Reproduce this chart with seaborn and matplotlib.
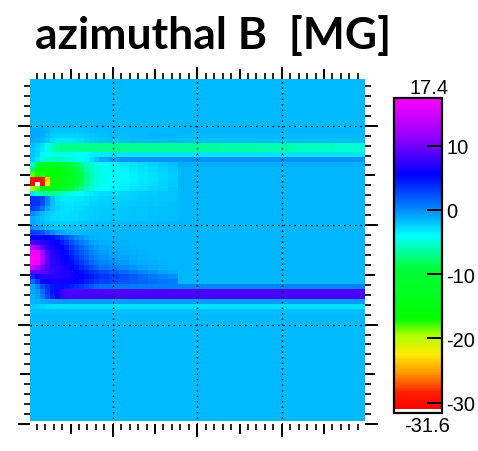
import numpy as np
import matplotlib
matplotlib.use("Agg")
import matplotlib.pyplot as plt
import seaborn as sns
from matplotlib.colors import LinearSegmentedColormap
from matplotlib.ticker import FixedLocator

# ---------------- data ----------------
TITLE = "azimuthal B  [MG]"
V_MIN, V_MAX = -31.6, 17.4
CBAR_TICKS = [10, 0, -10, -20, -30]
CBAR_TOP_LABEL = "17.4"
CBAR_BOTTOM_LABEL = "-31.6"

N_ROWS, N_COLS = 70, 68
X_LO, X_HI = 0.02, 3.985      # physical x range of the map
Y_LO, Y_HI = 0.0, 3.47        # physical y range of the frame
X_MAJOR = [1, 2, 3]
Y_MAJOR = [0, 1, 2, 3]

# far-field value of each row (top -> bottom)
far_profile = [
    -1.6, -1.6, -1.6, -1.6, -1.6, -1.6, -1.6, -1.6, -1.6, -1.5, -1.5, -1.6, -1.8,  # r0-12
    -6.0, -6.0,                                                                    # r13-14 upper band
    -3.0, -0.3, -1.2,                                                              # r15-17
    -1.5, -1.5, -1.5, -1.5, -1.5, -1.5, -1.5, -1.5, -1.5, -1.5, -1.5, -1.5,        # r18-29
    -1.5, -1.5, -1.5, -1.5, -1.5, -1.5, -1.5, -1.5, -1.5, -1.5, -1.5, -1.5,        # r30-41
    0.4, 8.4, 8.4, -0.6, -2.9,                                                     # r42-46 lower band
    -1.8,                                                                          # r47
    -1.6, -1.6, -1.6, -1.6, -1.6, -1.6, -1.6, -1.6, -1.6, -1.6, -1.6,              # r48-58
    -1.6, -1.6, -1.6, -1.6, -1.6, -1.6, -1.6, -1.6, -1.6, -1.6, -1.6,              # r59-69
]

# upper band (rows 13-14) for columns 30..67, in blocks
upper_band_far = [-6.6, -6.3, -6.0, -5.6, -5.2]
upper_band_counts = [8, 8, 8, 8, 6]

PATCH_ROW0 = 10
# left-edge structures, rows 10..46, columns 0..13
left_patch = [
    [-1.0, -1.0, -1.2, -1.5, -1.8, -2.0, -2.0, -2.0, -2.0, -2.0, -1.9, -1.8, -1.7, -1.6],   # r10
    [-0.9, -1.0, -1.3, -1.8, -2.2, -2.4, -2.5, -2.5, -2.5, -2.4, -2.3, -2.2, -2.0, -1.9],   # r11
    [-1.0, -1.2, -1.6, -2.2, -2.8, -3.1, -3.2, -3.2, -3.1, -3.0, -2.8, -2.6, -2.4, -2.2],   # r12
    [-1.8, -2.2, -3.0, -4.5, -5.5, -6.3, -6.8, -7.0, -7.0, -7.0, -7.0, -7.0, -7.0, -7.0],   # r13
    [-2.0, -2.5, -3.3, -4.8, -5.8, -6.5, -6.8, -7.0, -7.0, -7.0, -7.0, -7.0, -7.0, -7.0],   # r14
    [-2.0, -2.6, -3.8, -4.3, -4.5, -4.6, -4.6, -4.5, -4.4, -4.3, -4.1, -3.9, -3.6, -3.3],   # r15
    [-2.2, -3.2, -4.8, -5.5, -5.8, -5.8, -5.6, -5.3, -5.0, -4.7, -4.3, -3.8, -3.0, -2.0],   # r16
    [-3.5, -9.0, -12.0, -12.5, -12.5, -12.0, -11.0, -10.0, -9.0, -8.0, -6.8, -5.8, -5.0, -4.5],   # r17
    [-8.0, -14.5, -16.0, -16.0, -15.5, -15.0, -14.0, -12.5, -11.0, -9.5, -8.0, -6.7, -5.6, -4.9],  # r18
    [-18.5, -16.5, -17.5, -16.5, -16.5, -16.0, -15.0, -13.5, -12.0, -10.5, -8.7, -7.1, -5.9, -5.0],  # r19
    [-29.5, -30.5, -29.0, -23.5, -16.5, -16.0, -15.0, -13.5, -12.0, -10.5, -8.7, -7.1, -5.9, -5.0],  # r20
    [-30.0, -33.0, -29.5, -21.5, -16.3, -15.8, -14.7, -13.2, -11.5, -10.0, -8.4, -6.9, -5.7, -4.9],  # r21
    [-19.5, -18.5, -17.0, -16.0, -15.0, -14.0, -12.5, -11.0, -9.5, -8.3, -7.0, -5.9, -5.1, -4.5],  # r22
    [-3.0, -5.5, -6.5, -6.8, -6.6, -6.2, -5.7, -5.2, -4.7, -4.3, -3.9, -3.6, -3.3, -3.0],   # r23
    [3.5, 3.5, 2.5, 0.3, -1.8, -2.9, -3.3, -3.4, -3.4, -3.3, -3.2, -3.0, -2.8, -2.7],      # r24
    [3.8, 3.8, 2.5, 0.0, -1.8, -2.7, -3.0, -3.1, -3.1, -3.0, -2.9, -2.8, -2.6, -2.5],      # r25
    [3.0, 2.5, 0.8, -1.0, -2.0, -2.6, -2.8, -2.9, -2.9, -2.8, -2.7, -2.6, -2.4, -2.3],     # r26
    [0.0, -0.8, -1.6, -2.2, -2.6, -2.8, -2.9, -2.9, -2.8, -2.7, -2.6, -2.5, -2.4, -2.3],   # r27
    [-1.0, -1.5, -2.0, -2.4, -2.7, -2.8, -2.9, -2.8, -2.8, -2.7, -2.6, -2.5, -2.3, -2.2],  # r28
    [-0.8, -1.3, -1.8, -2.1, -2.3, -2.4, -2.4, -2.4, -2.3, -2.2, -2.1, -2.0, -1.9, -1.8],  # r29
    [-0.3, -0.6, -1.1, -1.5, -1.8, -2.0, -2.0, -2.0, -1.9, -1.9, -1.8, -1.7, -1.6, -1.6],  # r30
    [3.0, 2.8, 2.2, 1.2, 0.2, -0.6, -1.1, -1.4, -1.5, -1.6, -1.6, -1.6, -1.5, -1.5],       # r31
    [6.0, 6.0, 5.8, 5.5, 5.0, 4.2, 3.2, 2.2, 1.2, 0.3, -0.4, -0.9, -1.2, -1.4],           # r32
    [8.5, 8.0, 7.0, 6.5, 6.0, 5.5, 4.5, 3.5, 2.4, 1.4, 0.6, -0.1, -0.6, -1.0],            # r33
    [14.0, 11.5, 9.0, 7.0, 6.3, 6.0, 5.5, 4.5, 3.4, 2.4, 1.5, 0.7, 0.0, -0.5],            # r34
    [16.8, 16.3, 12.5, 8.5, 7.0, 6.3, 5.8, 5.0, 4.0, 3.0, 2.1, 1.3, 0.5, -0.1],           # r35
    [17.3, 17.1, 13.5, 9.0, 7.2, 6.5, 6.0, 5.4, 4.5, 3.5, 2.6, 1.7, 0.9, 0.3],            # r36
    [17.1, 16.7, 12.5, 9.0, 7.3, 6.6, 6.2, 5.8, 5.0, 4.1, 3.2, 2.3, 1.5, 0.8],            # r37
    [15.0, 12.5, 10.0, 8.5, 7.5, 7.0, 6.6, 6.2, 5.6, 4.8, 4.0, 3.2, 2.4, 1.7],            # r38
    [9.0, 9.0, 9.0, 8.5, 7.8, 7.2, 6.8, 6.5, 6.1, 5.6, 5.0, 4.4, 3.8, 3.2],               # r39
    [4.0, 6.0, 7.0, 7.2, 7.2, 7.0, 6.8, 6.6, 6.3, 5.9, 5.5, 5.0, 4.5, 4.0],               # r40
    [1.5, 3.2, 5.0, 5.8, 6.2, 6.3, 6.2, 6.0, 5.7, 5.3, 4.9, 4.4, 3.9, 3.4],               # r41
    [-0.8, 0.5, 2.5, 3.8, 4.5, 4.9, 5.0, 4.8, 4.4, 3.9, 3.3, 2.7, 2.1, 1.5],              # r42
    [-1.0, -0.5, 1.2, 3.2, 4.8, 6.3, 7.6, 8.3, 8.5, 8.5, 8.5, 8.5, 8.5, 8.5],              # r43
    [-1.2, -0.8, 0.6, 2.6, 4.2, 6.0, 7.4, 8.2, 8.4, 8.4, 8.4, 8.4, 8.4, 8.4],              # r44
    [-1.5, -1.3, -1.1, -0.8, -0.6, -0.5, -0.5, -0.5, -0.6, -0.6, -0.6, -0.6, -0.6, -0.6],  # r45
    [-2.2, -2.4, -2.6, -2.8, -2.8, -2.9, -2.9, -2.9, -2.9, -2.9, -2.9, -2.9, -2.9, -2.9],  # r46
]

# transition zone, rows 10..46, eight blocks of two columns (cols 14..29)
transition = [
    [-1.6, -1.6, -1.6, -1.6, -1.6, -1.6, -1.6, -1.6],   # r10
    [-1.8, -1.7, -1.7, -1.6, -1.6, -1.5, -1.5, -1.5],   # r11
    [-2.1, -2.0, -1.9, -1.8, -1.8, -1.7, -1.7, -1.7],   # r12
    [-7.0, -7.0, -7.0, -6.9, -6.8, -6.8, -6.7, -6.6],   # r13
    [-7.0, -7.0, -7.0, -6.9, -6.8, -6.8, -6.7, -6.6],   # r14
    [-3.1, -3.0, -3.0, -3.0, -3.0, -3.0, -3.0, -3.0],   # r15
    [-1.2, -0.6, -0.3, -0.3, -0.3, -0.3, -0.3, -0.3],   # r16
    [-3.9, -3.6, -3.3, -3.0, -2.7, -2.4, -2.1, -1.8],   # r17
    [-4.3, -3.9, -3.6, -3.3, -3.0, -2.7, -2.4, -2.1],   # r18
    [-4.5, -4.1, -3.8, -3.5, -3.2, -2.9, -2.6, -2.3],   # r19
    [-4.5, -4.1, -3.8, -3.5, -3.2, -2.9, -2.6, -2.3],   # r20
    [-4.4, -4.0, -3.7, -3.4, -3.1, -2.8, -2.5, -2.2],   # r21
    [-4.0, -3.7, -3.4, -3.1, -2.9, -2.6, -2.4, -2.1],   # r22
    [-2.8, -2.7, -2.6, -2.4, -2.3, -2.2, -2.0, -1.9],   # r23
    [-2.6, -2.5, -2.4, -2.3, -2.2, -2.1, -2.0, -1.9],   # r24
    [-2.4, -2.3, -2.3, -2.2, -2.1, -2.0, -1.9, -1.8],   # r25
    [-2.2, -2.2, -2.1, -2.0, -2.0, -1.9, -1.8, -1.8],   # r26
    [-2.2, -2.2, -2.1, -2.0, -2.0, -1.9, -1.8, -1.8],   # r27
    [-2.1, -2.0, -2.0, -1.9, -1.9, -1.8, -1.8, -1.7],   # r28
    [-1.8, -1.7, -1.7, -1.6, -1.6, -1.6, -1.5, -1.5],   # r29
    [-1.6, -1.6, -1.5, -1.5, -1.5, -1.5, -1.5, -1.5],   # r30
    [-1.5, -1.5, -1.5, -1.5, -1.5, -1.5, -1.5, -1.5],   # r31
    [-1.5, -1.5, -1.5, -1.5, -1.5, -1.5, -1.5, -1.5],   # r32
    [-1.2, -1.3, -1.4, -1.5, -1.5, -1.5, -1.5, -1.5],   # r33
    [-0.9, -1.1, -1.3, -1.4, -1.5, -1.5, -1.5, -1.5],   # r34
    [-0.6, -0.9, -1.1, -1.3, -1.4, -1.5, -1.5, -1.5],   # r35
    [-0.2, -0.6, -0.9, -1.1, -1.3, -1.4, -1.5, -1.5],   # r36
    [0.3, -0.2, -0.6, -0.9, -1.1, -1.3, -1.4, -1.5],    # r37
    [1.1, 0.6, 0.1, -0.4, -0.8, -1.0, -1.2, -1.4],      # r38
    [2.6, 2.0, 1.4, 0.8, 0.2, -0.3, -0.7, -1.0],        # r39
    [3.5, 3.0, 2.5, 2.0, 1.4, 0.8, 0.3, -0.2],          # r40
    [2.9, 2.5, 2.1, 1.8, 1.5, 1.2, 0.9, 0.6],           # r41
    [1.1, 0.9, 0.8, 0.7, 0.6, 0.5, 0.5, 0.4],           # r42
    [8.5, 8.5, 8.5, 8.4, 8.4, 8.4, 8.4, 8.4],           # r43
    [8.4, 8.4, 8.4, 8.4, 8.4, 8.4, 8.4, 8.4],           # r44
    [-0.6, -0.6, -0.6, -0.6, -0.6, -0.6, -0.6, -0.6],   # r45
    [-2.9, -2.9, -2.9, -2.9, -2.9, -2.9, -2.9, -2.9],   # r46
]

# colour scale nodes (value, rgb)
cmap_values = [-31.6, -31.08, -31.0, -28.5, -25.5, -22.5, -19.5, -17.0, -9.0, -4.0, 0.0, 5.5, 11.0, 17.4]
cmap_colors = ["#ffffff", "#ffffff", "#ff0000", "#ff1e00", "#ff9600", "#ffeb00", "#aaff00",
               "#00ff00", "#00ff3c", "#00ffff", "#008cff", "#0000ff", "#8c00ff", "#ff00ff"]

# ---------------- build the field ----------------
field = np.tile(np.array(far_profile)[:, None], (1, N_COLS))
band = np.repeat(upper_band_far, upper_band_counts)
field[13, 30:] = band
field[14, 30:] = band
lp = np.array(left_patch)
field[PATCH_ROW0:PATCH_ROW0 + lp.shape[0], :lp.shape[1]] = lp
tr = np.repeat(np.array(transition), 2, axis=1)
field[PATCH_ROW0:PATCH_ROW0 + tr.shape[0], lp.shape[1]:lp.shape[1] + tr.shape[1]] = tr

pos = [(v - V_MIN) / (V_MAX - V_MIN) for v in cmap_values]
cmap = LinearSegmentedColormap.from_list("bfield", list(zip(pos, cmap_colors)), N=512)
cmap.set_under("white")
cmap.set_over("#ff00ff")

# ---------------- figure ----------------
W, H = 478, 452
fig = plt.figure(figsize=(W / 100, H / 100), dpi=100)

def rect(x0, y0, x1, y1):
    return [x0 / W, 1 - y1 / H, (x1 - x0) / W, (y1 - y0) / H]

map_rect = rect(30, 80, 365, 425)
heat_px_bottom = 422
ax = fig.add_axes(map_rect)
cax = fig.add_axes(rect(394, 99, 442, 414))

sns.heatmap(field, ax=ax, cmap=cmap, vmin=V_MIN, vmax=V_MAX, cbar=True, cbar_ax=cax,
            xticklabels=False, yticklabels=False, square=False, rasterized=True)
ax.set_xlim(0, N_COLS)
ax.set_ylim(N_ROWS * (425 - 80) / (heat_px_bottom - 80), 0)
ax.set_xticks([]); ax.set_yticks([])
for s in ax.spines.values():
    s.set_visible(False)

# overlay frame in physical units for ticks and dotted grid
ov = fig.add_axes(map_rect)
ov.set_xlim(X_LO, X_HI)
ov.set_ylim(Y_LO, Y_HI)
ov.patch.set_visible(False)
for s in ov.spines.values():
    s.set_visible(False)

def minor_pos(lo, hi):
    out = []
    for k in range(int(np.floor(lo * 10)), int(np.ceil(hi * 10)) + 1):
        v = k / 10
        if lo - 1e-9 <= v <= hi + 1e-9 and k % 5 != 0:
            out.append(v)
    return out

def half_pos(lo, hi):
    return [k / 2 for k in range(int(lo * 2), int(hi * 2) + 1)
            if k % 2 == 1 and lo <= k / 2 <= hi]

ov.xaxis.set_major_locator(FixedLocator(X_MAJOR))
ov.yaxis.set_major_locator(FixedLocator(Y_MAJOR))
ov.xaxis.set_minor_locator(FixedLocator(minor_pos(X_LO, X_HI)))
ov.yaxis.set_minor_locator(FixedLocator(minor_pos(Y_LO, Y_HI)))
ov.tick_params(which="major", direction="out", length=9.0, width=1.4, color="black",
               top=True, bottom=True, left=True, right=True,
               labeltop=False, labelbottom=False, labelleft=False, labelright=False)
ov.tick_params(which="minor", direction="out", length=4.6, width=1.2, color="black",
               top=True, bottom=True, left=True, right=True)

# medium ticks at the half units
ov2 = fig.add_axes(map_rect)
ov2.set_xlim(X_LO, X_HI)
ov2.set_ylim(Y_LO, Y_HI)
ov2.patch.set_visible(False)
for s in ov2.spines.values():
    s.set_visible(False)
ov2.xaxis.set_major_locator(FixedLocator(half_pos(X_LO, X_HI)))
ov2.yaxis.set_major_locator(FixedLocator(half_pos(Y_LO, Y_HI)))
ov2.tick_params(which="major", direction="out", length=7.0, width=1.4, color="black",
                top=True, bottom=True, left=True, right=True,
                labeltop=False, labelbottom=False, labelleft=False, labelright=False)

for xv in X_MAJOR:
    ov.axvline(xv, color="black", lw=0.9, dashes=(1.2, 3.2))
for yv in Y_MAJOR[1:]:
    ov.axhline(yv, color="black", lw=0.9, dashes=(1.2, 3.2))

# colorbar styling
cbar = ax.collections[0].colorbar
cbar.set_ticks(CBAR_TICKS)
cbar.set_ticklabels([str(t) for t in CBAR_TICKS])
cbar.outline.set_linewidth(1.6)
cbar.outline.set_edgecolor("black")
cax.tick_params(direction="in", length=11, width=1.4, color="black", right=True, left=False,
                labelsize=14.5, pad=3)
for lab in cax.get_yticklabels():
    lab.set_family("Liberation Sans")
fig.text(429 / W, 1 - 88 / H, CBAR_TOP_LABEL, ha="center", va="center",
         fontsize=14.5, family="Liberation Sans")
fig.text(427 / W, 1 - 427 / H, CBAR_BOTTOM_LABEL, ha="center", va="center",
         fontsize=14.5, family="Liberation Sans")

fig.text(213 / W, 1 - 49 / H, TITLE, ha="center", va="baseline",
         fontsize=32, fontweight="bold", family="Lato")

fig.savefig("out.png", dpi=100)
